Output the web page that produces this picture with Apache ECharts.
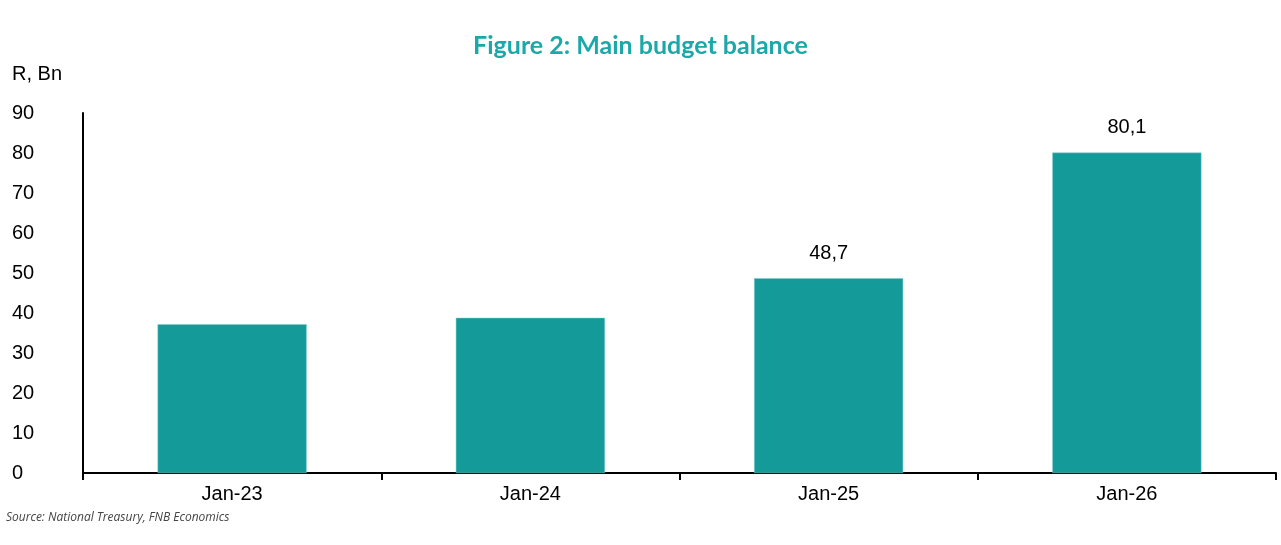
<!DOCTYPE html>
<html>
<head>
<meta charset="utf-8">
<script src="https://cdn.jsdelivr.net/npm/echarts@6/dist/echarts.min.js"></script>
<style>
  html, body { margin: 0; padding: 0; background: #fff; }
  #main { width: 1281px; height: 545px; }
</style>
</head>
<body>
<div id="main"></div>
<script>
// chart data
const categories = ['Jan-23', 'Jan-24', 'Jan-25', 'Jan-26'];
const balance = [37.2, 38.8, 48.7, 80.1];
const labelled = [false, false, true, true];

window.onload = function () {
  const chartDom = document.getElementById('main');
  const myChart = echarts.init(chartDom);

  const option = {
    animation: false,
    backgroundColor: '#fff',
    title: {
      text: 'Figure 2: Main budget balance',
      left: 'center',
      top: 28,
      textStyle: { fontFamily: 'Lato', fontWeight: 'bold', fontSize: 25, color: '#1ca8a8' }
    },
    graphic: [
      { type: 'text', left: 12, top: 64, style: { text: 'R, Bn', font: '20px "Liberation Sans", Arial', fill: '#000' } },
      { type: 'text', left: 6, top: 512, style: { text: 'Source: National Treasury, FNB Economics', font: 'italic 12px "Open Sans", sans-serif', fill: '#444' } }
    ],
    grid: { left: 83, right: 5, top: 113, bottom: 72 },
    xAxis: {
      type: 'category',
      data: categories,
      axisLine: { lineStyle: { color: '#000', width: 2 } },
      axisTick: { show: true, length: 7, lineStyle: { color: '#000', width: 2 } },
      axisLabel: { color: '#000', fontSize: 20, fontFamily: 'Liberation Sans', margin: 11 }
    },
    yAxis: {
      type: 'value',
      min: 0,
      max: 90,
      interval: 10,
      splitLine: { show: false },
      axisLine: { show: true, lineStyle: { color: '#000', width: 2 } },
      axisTick: { show: false },
      axisLabel: { color: '#000', fontSize: 20, fontFamily: 'Liberation Sans', align: 'left', margin: 71 }
    },
    series: [{
      type: 'bar',
      barCategoryGap: '50%',
      itemStyle: { color: '#159a9a', borderColor: '#7fcfcf', borderWidth: 0.5 },
      data: balance.map((v, i) => ({
        value: v,
        label: {
          show: labelled[i],
          position: 'top',
          distance: 15,
          color: '#000',
          fontSize: 20,
          fontFamily: 'Liberation Sans',
          formatter: p => p.value.toFixed(1).replace('.', ',')
        }
      }))
    }]
  };

  option && myChart.setOption(option);
};
</script>
</body>
</html>
